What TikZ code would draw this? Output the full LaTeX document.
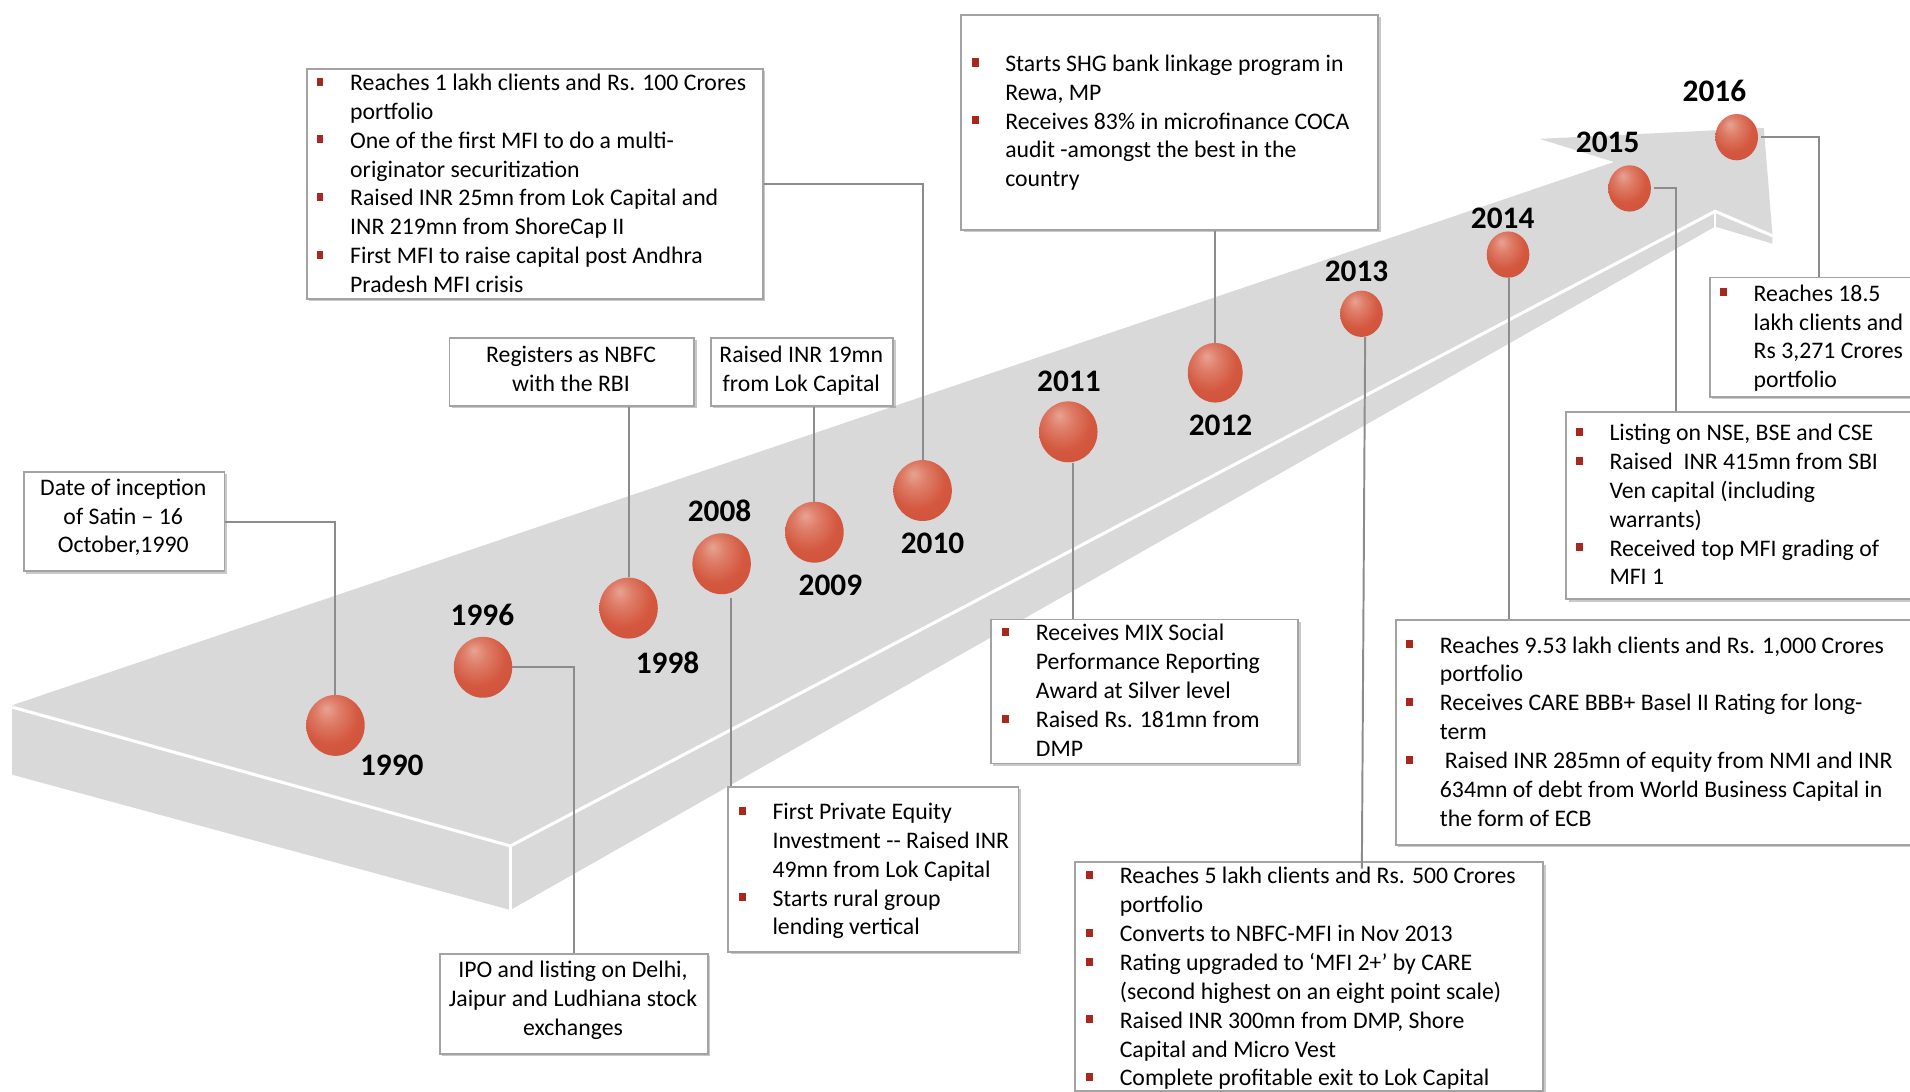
\documentclass[tikz,border=0pt]{standalone}
\usepackage{fontspec}
\setmainfont{Carlito}
\usetikzlibrary{shapes.geometric,shadows,calc}
\definecolor{slabgray}{HTML}{D9D9D9}
\definecolor{boxgray}{HTML}{A3A3A3}
\definecolor{conngray}{HTML}{8C8C8C}
\definecolor{bulred}{HTML}{A8281E}
\definecolor{ballhi}{HTML}{E8A393}
\definecolor{ballmid}{HTML}{D4583F}
\definecolor{balldark}{HTML}{B53E29}
\colorlet{ballhm}{ballhi!50!ballmid}
\colorlet{ballmd}{ballmid!70!balldark}
\pgfdeclareradialshading{redball}{\pgfpoint{-8bp}{14bp}}{color(0bp)=(ballhi);color(10bp)=(ballhm);color(24bp)=(ballmid);color(46bp)=(ballmd);color(64bp)=(balldark)}
\newcommand{\bl}{\makebox[27.5pt][l]{\textcolor{bulred}{\rule[4pt]{5.5pt}{6.6pt}}}}
\tikzset{
  slab/.style={fill=slabgray},
  edge/.style={draw=white, line width=2.5pt},
  box/.style={draw=boxgray, line width=1.5pt, fill=white, inner sep=0pt, anchor=north west,
    drop shadow={shadow xshift=2pt, shadow yshift=-2pt, opacity=0.35, fill=black!60}},
  txt/.style={inner sep=0pt, font=\fontsize{19.5}{23.7}\selectfont},
  yr/.style={inner sep=0pt, font=\fontsize{25.7}{30}\selectfont\bfseries},
  ball/.style={ellipse, inner sep=0pt, shading=redball, draw=none, minimum width=48pt, minimum height=50pt},
  sball/.style={ball, minimum width=35pt, minimum height=38pt},
  conn/.style={draw=conngray, line width=1.6pt}
}
\begin{document}
\begin{tikzpicture}[x=1pt,y=-1pt]
\useasboundingbox (0,0) rectangle (1568,896);
\clip (0,0) rectangle (1568,896);
\fill[white] (0,0) rectangle (1568,896);
% slab arrow
\fill[slab] (10,579) -- (1325,133) -- (1264,114) -- (1448,105) -- (1455,192) -- (1408,172) -- (419,693) -- cycle;
\fill[slab] (10,579) -- (419,693) -- (419,747) -- (10,636) -- cycle;
\fill[slab] (419,693) -- (1408,172) -- (1408,186) -- (419,747) -- cycle;
\fill[slab] (1408,172) -- (1455,192) -- (1455,200) -- (1408,186) -- cycle;
\draw[edge] (10,580.5) -- (419,694.5) -- (1408,173.5) -- (1455,193.5);
\draw[edge, line width=2pt] (419,694.5) -- (419,747);
\draw[edge, line width=2pt] (1408,173.5) -- (1408,186);

% balls
\node[ball] (b1990) at (275.4,595.5) {};
\node[ball] (b1996) at (396.5,547.8) {};
\node[ball] (b1998) at (516,499.2) {};
\node[ball] (b2008) at (592.4,462.8) {};
\node[ball] (b2009) at (668.6,436.9) {};
\node[ball] (b2010) at (757.4,402.7) {};
\node[ball] (b2011) at (877,354.5) {};
\node[ball, minimum width=45pt, minimum height=49pt] (b2012) at (997.6,306) {};
\node[sball] (b2013) at (1117.7,257.6) {};
\node[sball] (b2014) at (1238,209) {};
\node[sball] (b2015) at (1337.8,154.7) {};
\node[sball] (b2016) at (1425.7,112.6) {};

% years
\node[yr] (y1990) at (321.6,628) {1990};
\node[yr] (y1996) at (396,505) {1996};
\node[yr] (y1998) at (548,544) {1998};
\node[yr] (y2008) at (590.7,419.5) {2008};
\node[yr] (y2009) at (681.7,480.7) {2009};
\node[yr] (y2010) at (765.6,446.1) {2010};
\node[yr] (y2011) at (877.5,313) {2011};
\node[yr] (y2012) at (1002,348.8) {2012};
\node[yr] (y2013) at (1113.6,223) {2013};
\node[yr] (y2014) at (1233.6,179) {2014};
\node[yr] (y2015) at (1319.8,117) {2015};
\node[yr] (y2016) at (1407.4,74.6) {2016};

% boxes
\node[box, minimum width=164.5pt, minimum height=81.8pt] (box1) at (19,386.5) {};
\node[box, minimum width=201pt, minimum height=56pt] (box2) at (368.3,276.5) {};
\node[box, minimum width=149.7pt, minimum height=56pt] (box3) at (582.9,276.5) {};
\node[box, minimum width=374.3pt, minimum height=188.6pt] (box4) at (251.3,55.8) {};
\node[box, minimum width=220.1pt, minimum height=82.1pt] (box5) at (360.3,782.2) {};
\node[box, minimum width=238.3pt, minimum height=135.8pt] (box6) at (597,645) {};
\node[box, minimum width=252.3pt, minimum height=118.2pt] (box7) at (812.7,507.8) {};
\node[box, minimum width=342.3pt, minimum height=176.4pt] (box8) at (788.5,11.4) {};
\node[box, minimum width=384.5pt, minimum height=188pt] (box9) at (881.5,707) {};
\node[box, minimum width=440pt, minimum height=184.4pt] (box10) at (1145,508.3) {};
\node[box, minimum width=300pt, minimum height=153.8pt] (box11) at (1285,337.4) {};
\node[box, minimum width=200pt, minimum height=98pt] (box12) at (1403,227) {};

% connectors
\draw[conn] (box1.east) -| (b1990.north);
\draw[conn] (box2.south -| b1998.north) -- (b1998.north);
\draw[conn] (box3.south -| b2009.north) -- (b2009.north);
\draw[conn] (box4.east) -| (b2010.north);
\draw[conn] (b1996.east) -| (box5.north);
\draw[conn] ($(b2008.south)+(7.5,3)$) -- ($(b2008.south |- box6.north)+(7.5,0)$);
\draw[conn] ($(b2011.south)+(3.5,0)$) -- ($(b2011.south |- box7.north)+(3.5,0)$);
\draw[conn] (b2012.north) -- (b2012.north |- box8.south);
\draw[conn] ($(b2013.south)+(3,0)$) -- ($(b2013.south |- box9.north)+(0.3,6)$);
\draw[conn] ($(b2014.south)+(1,0)$) -- ($(b2014.south |- box10.north)+(1,0)$);
\draw[conn] ($(b2015.east)+(2,0)$) -| ($(box11.north west)+(90.5,0)$);
\draw[conn] ($(b2016.east)+(2,0)$) -| ($(box12.north west)+(90.6,0)$);

% texts
\node[txt, anchor=base] (t1) at (101.2,406.5) {\begin{tabular}[t]{@{}c@{}}Date of inception\\of Satin – 16\\October,1990\end{tabular}};
\node[txt, anchor=base] (t2) at (468.8,297.3) {\begin{tabular}[t]{@{}c@{}}Registers as NBFC\\with the RBI\end{tabular}};
\node[txt, anchor=base] (t3) at (657.8,297.3) {\begin{tabular}[t]{@{}c@{}}Raised INR 19mn\\from Lok Capital\end{tabular}};
\node[txt, anchor=base] (t5) at (470.4,802.8) {\begin{tabular}[t]{@{}c@{}}IPO and listing on Delhi,\\Jaipur and Ludhiana stock\\exchanges\end{tabular}};
\node[txt, anchor=base west] (t4) at (259.8,74.3) {\begin{tabular}[t]{@{}l@{}l@{}}
\bl & Reaches 1 lakh clients and Rs. 100 Crores\\
 & portfolio\\
\bl & One of the first MFI to do a multi-\\
 & originator securitization\\
\bl & Raised INR 25mn from Lok Capital and\\
 & INR 219mn from ShoreCap II\\
\bl & First MFI to raise capital post Andhra\\
 & Pradesh MFI crisis\end{tabular}};
\node[txt, anchor=base west] (t8) at (797.6,58.6) {\begin{tabular}[t]{@{}l@{}l@{}}
\bl & Starts SHG bank linkage program in\\
 & Rewa, MP\\
\bl & Receives 83\% in microfinance COCA\\
 & audit -amongst the best in the\\
 & country\end{tabular}};
\node[txt, anchor=base west] (t6) at (606.5,672.7) {\begin{tabular}[t]{@{}l@{}l@{}}
\bl & First Private Equity\\
 & Investment -{}- Raised INR\\
 & 49mn from Lok Capital\\
\bl & Starts rural group\\
 & lending vertical\end{tabular}};
\node[txt, anchor=base west] (t7) at (822.7,526.1) {\begin{tabular}[t]{@{}l@{}l@{}}
\bl & Receives MIX Social\\
 & Performance Reporting\\
 & Award at Silver level\\
\bl & Raised Rs. 181mn from\\
 & DMP\end{tabular}};
\node[txt, anchor=base west] (t9) at (891.6,725.6) {\begin{tabular}[t]{@{}l@{}l@{}}
\bl & Reaches 5 lakh clients and Rs. 500 Crores\\
 & portfolio\\
\bl & Converts to NBFC-MFI in Nov 2013\\
\bl & Rating upgraded to ‘MFI 2+’ by CARE\\
 & (second highest on an eight point scale)\\
\bl & Raised INR 300mn from DMP, Shore\\
 & Capital and Micro Vest\\
\bl & Complete profitable exit to Lok Capital\end{tabular}};
\node[txt, anchor=base west] (t10) at (1154.4,536.1) {\begin{tabular}[t]{@{}l@{}l@{}}
\bl & Reaches 9.53 lakh clients and Rs. 1,000 Crores\\
 & portfolio\\
\bl & Receives CARE BBB+ Basel II Rating for long-\\
 & term\\
\bl & \hspace{4pt}Raised INR 285mn of equity from NMI and INR\\
 & 634mn of debt from World Business Capital in\\
 & the form of ECB\end{tabular}};
\node[txt, anchor=base west] (t11) at (1293.6,361.7) {\begin{tabular}[t]{@{}l@{}l@{}}
\bl & Listing on NSE, BSE and CSE\\
\bl & Raised\ \ INR 415mn from SBI\\
 & Ven capital (including\\
 & warrants)\\
\bl & Received top MFI grading of\\
 & MFI 1\end{tabular}};
\node[txt, anchor=base west] (t12) at (1412,247.3) {\begin{tabular}[t]{@{}l@{}l@{}}
\bl & Reaches 18.5\\
 & lakh clients and\\
 & Rs 3,271 Crores\\
 & portfolio\end{tabular}};
\end{tikzpicture}
\end{document}
